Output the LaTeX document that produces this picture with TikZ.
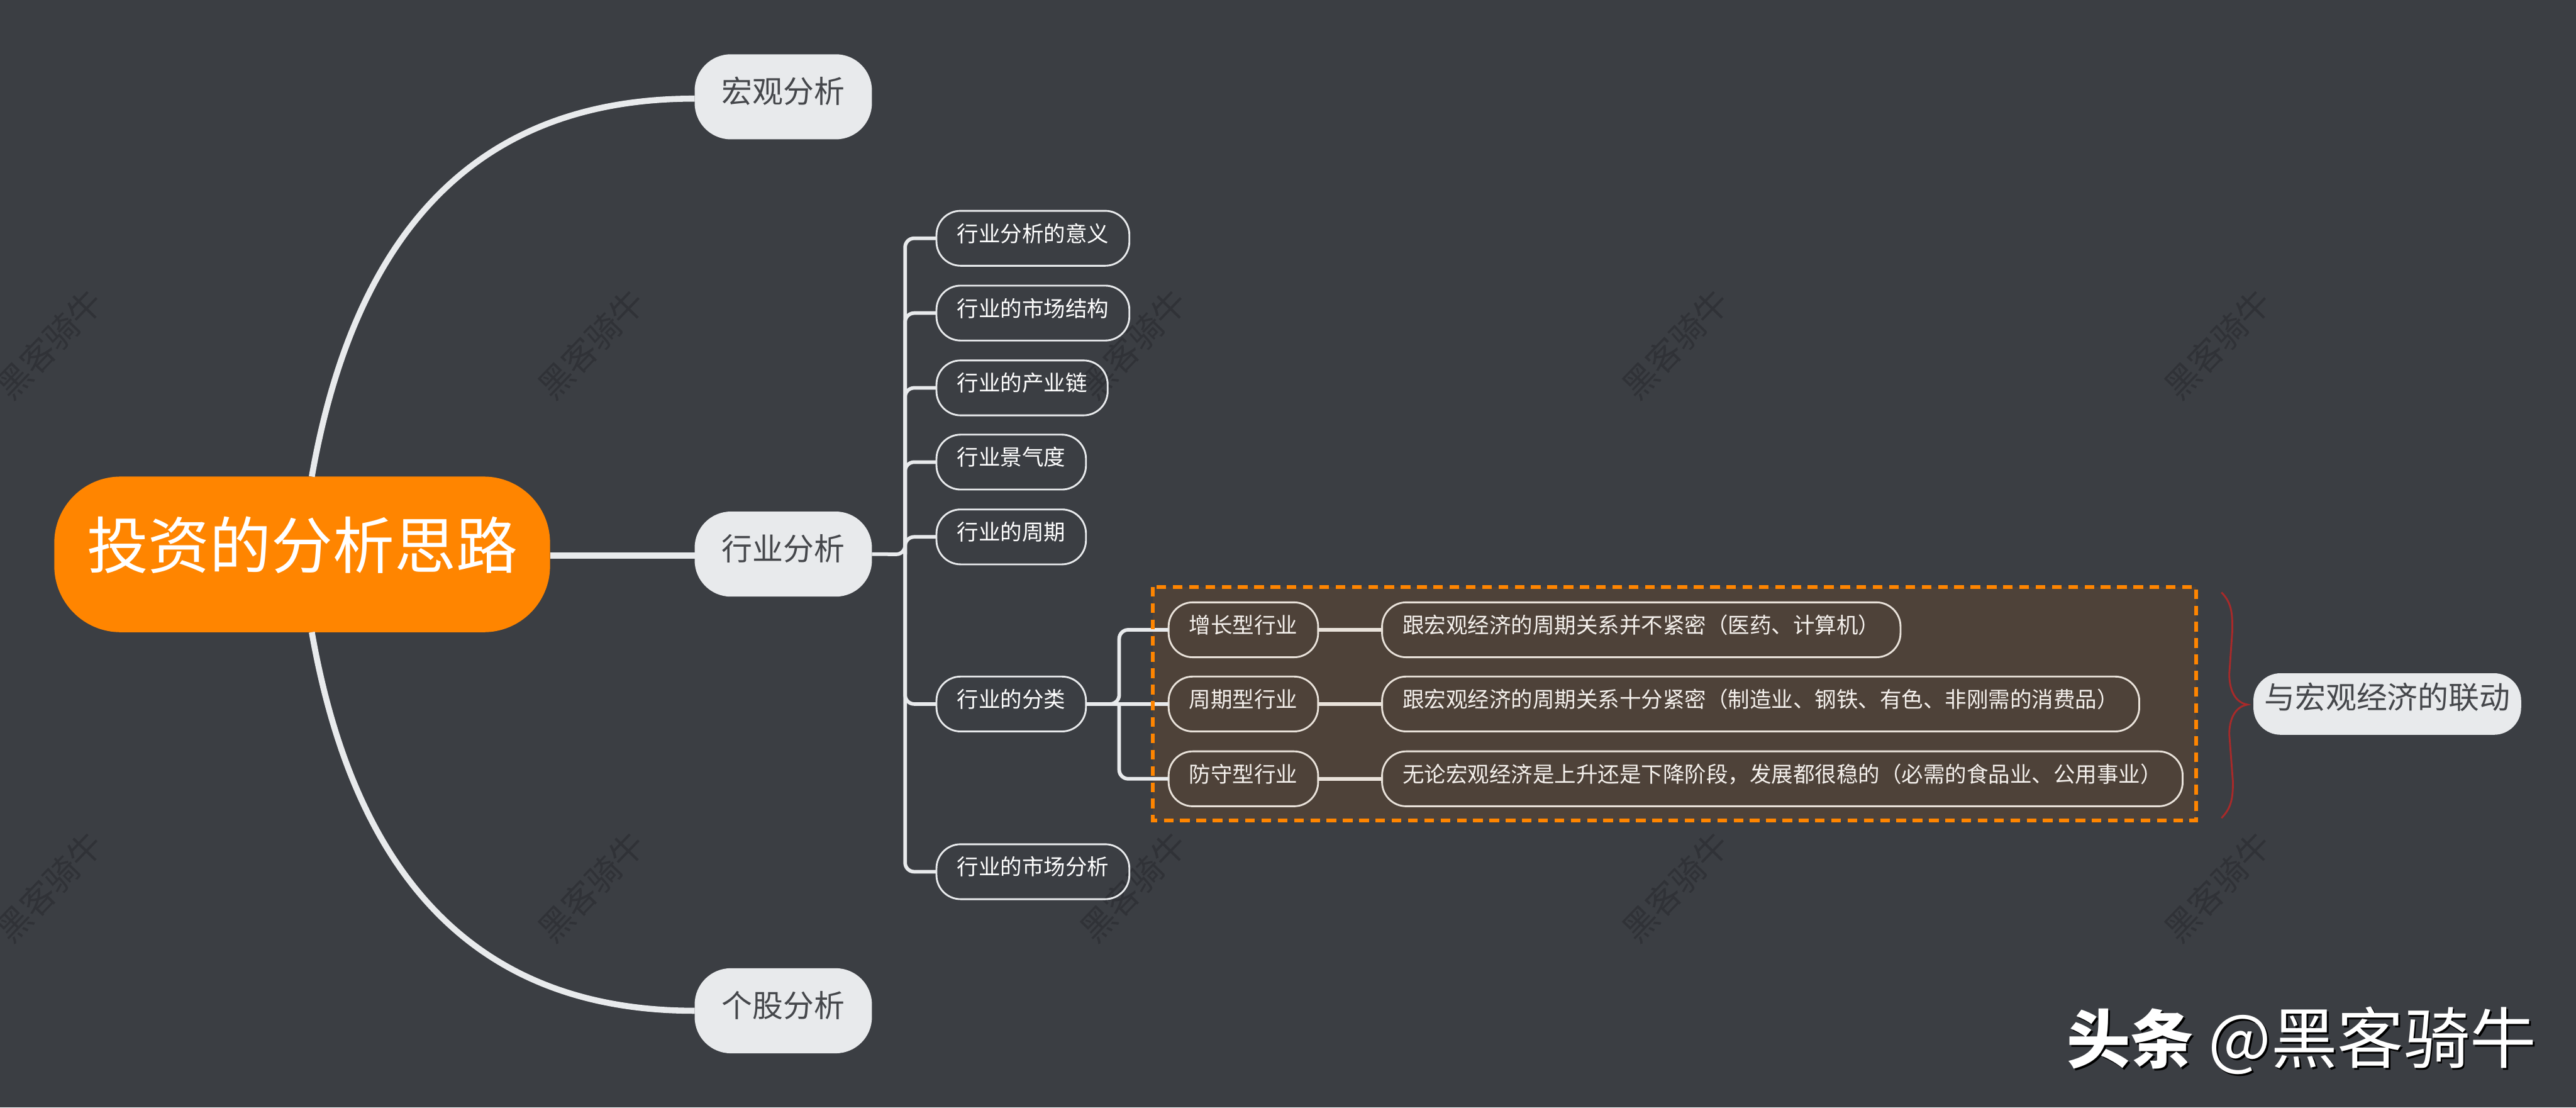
\documentclass[tikz,border=0pt]{standalone}
\usepackage{fontspec}
\setmainfont{Noto Sans CJK SC}
\usepackage{tikz}
\definecolor{bgdark}{HTML}{3B3E43}
\definecolor{markdark}{HTML}{303237}
\definecolor{rootorange}{HTML}{FF8500}
\definecolor{palegrey}{HTML}{E8EAEC}
\definecolor{textgrey}{HTML}{45474B}
\definecolor{boxbrown}{HTML}{4E4239}
\definecolor{boxline}{HTML}{E9E2DA}
\definecolor{bracered}{HTML}{A82A2A}

\begin{document}
\begin{tikzpicture}[
    rootpill/.style={rectangle, fill=rootorange, text=white, rounded corners=1.1cm, inner xsep=0.54cm, inner ysep=0pt, outer sep=0pt, text height=1.52cm, text depth=1.06cm, font=\fontsize{29.03}{32}\selectfont},
    mainpill/.style={rectangle, fill=palegrey, text=textgrey, rounded corners=0.6cm, inner xsep=0.45cm, inner ysep=0pt, outer sep=0pt, text height=0.81cm, text depth=0.60cm, font=\fontsize{14.51}{17}\selectfont},
    subpill/.style={rectangle, draw=palegrey, line width=0.03cm, text=white, rounded corners=0.40cm, inner xsep=0.34cm, inner ysep=0pt, outer sep=0pt, text height=0.512cm, text depth=0.398cm, font=\fontsize{10.24}{12}\selectfont},
    boxpill/.style={subpill, draw=boxline, text=boxline!50!white},
    trunkline/.style={line width=0.06cm, draw=palegrey, rounded corners=0.15cm},
    boxbranch/.style={line width=0.06cm, draw=boxline},
    rootcurve/.style={line width=0.10cm, draw=palegrey},
    stamp/.style={rotate=46, text=markdark, inner sep=0pt, font=\fontsize{16}{18}\selectfont},
    logotext/.style={anchor=base west, inner sep=0pt, font=\fontsize{30}{34}\selectfont}
  ]
    \useasboundingbox (0,0) rectangle (42.72,18.36);
    \fill[bgdark] (0,0) rectangle (42.72,18.36);

    % Watermarks
    \node[stamp] (Mark1) at (0.82,12.66) {黑客骑牛};
    \node[stamp] (Mark2) at (9.81,12.66) {黑客骑牛};
    \node[stamp] (Mark3) at (18.80,12.66) {黑客骑牛};
    \node[stamp] (Mark4) at (27.79,12.66) {黑客骑牛};
    \node[stamp] (Mark5) at (36.78,12.66) {黑客骑牛};
    \node[stamp] (Mark6) at (0.82,3.66) {黑客骑牛};
    \node[stamp] (Mark7) at (9.81,3.66) {黑客骑牛};
    \node[stamp] (Mark8) at (18.80,3.66) {黑客骑牛};
    \node[stamp] (Mark9) at (27.79,3.66) {黑客骑牛};
    \node[stamp] (Mark10) at (36.78,3.66) {黑客骑牛};

    % Dashed box, background part
    \node[rectangle, fill=boxbrown, minimum width=17.30cm, minimum height=3.87cm, inner sep=0pt, outer sep=0pt] (ClassBox) at (27.77,6.695) {};

    % Root and main topics
    \node[rootpill, anchor=west] (Root) at (0.90,9.17) {投资的分析思路};
    \node[mainpill, anchor=west] (Macro) at (11.52,16.755) {宏观分析};
    \node[mainpill, anchor=west] (Industry) at (11.52,9.175) {行业分析};
    \node[mainpill, anchor=west] (Stock) at (11.52,1.605) {个股分析};

    % Industry topics
    \node[subpill, anchor=west] (Meaning) at (15.53,14.41) {行业分析的意义};
    \node[subpill, anchor=west] (Structure) at (15.53,13.17) {行业的市场结构};
    \node[subpill, anchor=west] (Chain) at (15.53,11.93) {行业的产业链};
    \node[subpill, anchor=west] (Climate) at (15.53,10.70) {行业景气度};
    \node[subpill, anchor=west] (Period) at (15.53,9.46) {行业的周期};
    \node[subpill, anchor=west] (Classify) at (15.53,6.69) {行业的分类};
    \node[subpill, anchor=west] (Market) at (15.53,3.91) {行业的市场分析};

    % Classes of industry
    \node[boxpill, anchor=west] (Growth) at (19.38,7.92) {增长型行业};
    \node[boxpill, anchor=west] (Cyclical) at (19.38,6.69) {周期型行业};
    \node[boxpill, anchor=west] (Defensive) at (19.38,5.45) {防守型行业};
    \node[boxpill, anchor=west] (GrowthNote) at (22.92,7.92) {跟宏观经济的周期关系并不紧密（医药、计算机）};
    \node[boxpill, anchor=west] (CyclicalNote) at (22.92,6.69) {跟宏观经济的周期关系十分紧密（制造业、钢铁、有色、非刚需的消费品）};
    \node[boxpill, anchor=west] (DefensiveNote) at (22.92,5.45) {无论宏观经济是上升还是下降阶段，发展都很稳的（必需的食品业、公用事业）};

    % Summary
    \node[mainpill, anchor=west, inner xsep=0.18cm, rounded corners=0.45cm, text height=0.594cm, text depth=0.426cm] (Linkage) at (37.37,6.69) {与宏观经济的联动};

    % Curves from the root
    \draw[rootcurve] ([xshift=0.16cm]Root.north) to[out=80, in=180, out looseness=1.37, in looseness=0.87] ([yshift=-0.03cm]Macro.west);
    \draw[rootcurve] ([xshift=0.16cm]Root.south) to[out=-80, in=180, out looseness=1.37, in looseness=0.87] (Stock.west);
    \draw[rootcurve] ([yshift=-0.02cm]Root.east) -- ([yshift=-0.02cm]Root.east -| Industry.west);

    % Trunk of the industry topics
    \coordinate (Trunk) at (15.01,9.17);
    \draw[trunkline] (Industry.east) -- (Trunk) |- (Meaning.west);
    \draw[trunkline] (Trunk) |- (Structure.west);
    \draw[trunkline] (Trunk) |- (Chain.west);
    \draw[trunkline] (Trunk) |- (Climate.west);
    \draw[trunkline] (Trunk) |- (Period.west);
    \draw[trunkline] (Trunk) |- (Classify.west);
    \draw[trunkline] (Trunk) |- (Market.west);

    % Fork of the classes
    \coordinate (Fork) at (18.56,6.69);
    \draw[trunkline] (Classify.east) -- (Fork) |- (Growth.west);
    \draw[trunkline] (Fork) |- (Defensive.west);
    \draw[trunkline] (Classify.east) -- (Cyclical.west);
    \draw[boxbranch] (Growth.east) -- (GrowthNote.west);
    \draw[boxbranch] (Cyclical.east) -- (CyclicalNote.west);
    \draw[boxbranch] (Defensive.east) -- (DefensiveNote.west);

    % Dashed box, border part
    \draw[rootorange, line width=0.06cm, dash pattern=on 0.16cm off 0.11cm] (ClassBox.north west) rectangle (ClassBox.south east);

    % Brace
    \coordinate (BraceTop) at (36.84,8.54);
    \coordinate (BraceTip) at (37.27,6.68);
    \coordinate (BraceEnd) at (36.84,4.80);
    \draw[bracered, line width=0.03cm] (BraceTop) to[out=-45, in=90] (37.02,7.9) -- (36.97,7.19) to[out=-90, in=170] (BraceTip) to[out=190, in=90] (36.97,6.19) -- (37.03,5.4) to[out=-90, in=45] (BraceEnd);

    % Source line
    \node[logotext, text=black] (LogoShadow) at (34.30,0.71) {\textbf{头条} {\fontsize{31.3}{34}\selectfont @黑客骑牛}};
    \node[logotext, text=white] (Logo) at (34.27,0.74) {\textbf{头条} {\fontsize{31.3}{34}\selectfont @黑客骑牛}};
  \end{tikzpicture}
\end{document}
